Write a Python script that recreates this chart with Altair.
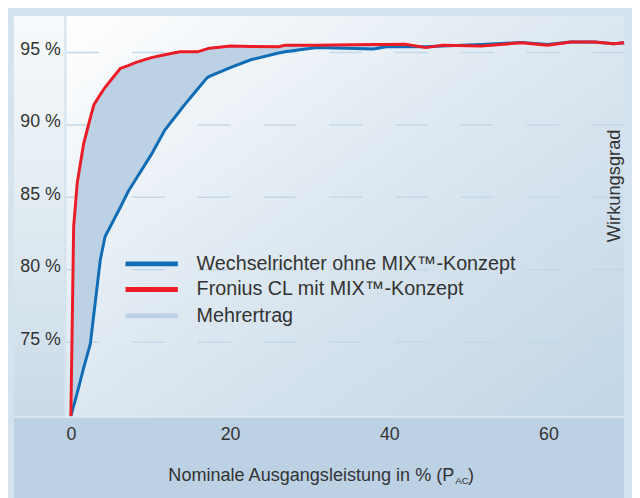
import altair as alt
import pandas as pd

# ---- data ----
x_pct = [0, 0.35, 0.8, 1.6, 2.45, 2.9, 3.7, 4.3, 6.2, 7.2, 8.1, 10.1, 11.8, 13.7,
         14.3, 15.9, 17.1, 17.4, 20.1, 22.6, 26.1, 26.9, 30.9, 38, 39.6, 42,
         44.6, 46.7, 51.6, 56.6, 59.9, 62.8, 65.8, 68.2, 69.5]
fronius_mix = [69.9, 83.0, 86.0, 88.7, 90.5, 91.4, 92.1, 92.6, 93.9, 94.1, 94.3, 94.65,
               94.85, 95.05, 95.05, 95.05, 95.25, 95.3, 95.45, 95.42, 95.4, 95.5, 95.5,
               95.55, 95.55, 95.57, 95.34, 95.5, 95.45, 95.68, 95.5, 95.73, 95.73, 95.6, 95.68]
ohne_mix = [69.9, 70.6, 71.5, 73.2, 74.9, 77.0, 80.7, 82.3, 84.3, 85.4, 86.2, 87.95,
            89.65, 90.98, 91.4, 92.46, 93.25, 93.35, 93.98, 94.5, 94.97, 95.05, 95.35,
            95.25, 95.4, 95.4, 95.4, 95.45, 95.55, 95.7, 95.55, 95.73, 95.73, 95.6, 95.68]
y_ticks = [75, 80, 85, 90, 95]
x_ticks = [0, 20, 40, 60]
legend_labels = ["Wechselrichter ohne MIX™-Konzept", "Fronius CL mit MIX™-Konzept", "Mehrertrag"]

BLUE = "#0f6cb5"
RED = "#ec1c27"
FILL = "#bcd1e4"
FONT = "Liberation Sans"
TXT = "#333333"

W, H = 565, 406

df = pd.DataFrame({"x": x_pct, "red": fronius_mix, "blue": ohne_mix})
grid_df = pd.DataFrame({"v": y_ticks})
one = pd.DataFrame({"a": [0]})

xscale = alt.Scale(domain=[-0.58, 69.5], nice=False, zero=False)
yscale = alt.Scale(domain=[69.84, 97.52], nice=False, zero=False)

xaxis = alt.Axis(values=x_ticks, format="d", domain=False, ticks=False, grid=False,
                 labelFontSize=18, labelFont=FONT, labelColor=TXT, labelPadding=9,
                 labelFlush=False, title=None, zindex=1)
yaxis = alt.Axis(values=y_ticks, labelExpr="datum.value + ' %'", domain=False, ticks=False,
                 grid=False, labelFontSize=18, labelFont=FONT, labelColor=TXT,
                 labelPadding=6, labelOffset=-3, title=None, zindex=1)

X = lambda f: alt.X(f, scale=xscale, axis=xaxis)
Y = lambda f: alt.Y(f, scale=yscale, axis=yaxis)

base1 = alt.Chart(one)

left_strip = base1.mark_rect(color={
    "gradient": "linear", "x1": 0, "y1": 0, "x2": 0, "y2": 1,
    "stops": [{"offset": 0, "color": "#f8fafc"}, {"offset": 1, "color": "#c9dbe7"}]
}).encode(x=alt.value(-53), x2=alt.value(0), y=alt.value(0), y2=alt.value(H))

plot_bg = base1.mark_rect(color={
    "gradient": "linear", "x1": 0, "y1": 0, "x2": 1, "y2": 1,
    "stops": [{"offset": 0, "color": "#ffffff"}, {"offset": 0.5, "color": "#dce7f0"},
              {"offset": 1, "color": "#c2d6e6"}]
}).encode(x=alt.value(0), x2=alt.value(W), y=alt.value(0), y2=alt.value(H))

band = base1.mark_rect(color="#bcd1e4").encode(
    x=alt.value(-53), x2=alt.value(W), y=alt.value(H), y2=alt.value(H + 90))

vline = base1.mark_rule(color="#d5e3ee", strokeWidth=2).encode(
    x=alt.value(-1), y=alt.value(0), y2=alt.value(H))
hline = base1.mark_rule(color="#dfeaf3", strokeWidth=1.5).encode(
    x=alt.value(-53), x2=alt.value(W), y=alt.value(H))

grid = alt.Chart(grid_df).mark_rule(color="#c3d8e9", strokeWidth=1.5, strokeDash=[33.3, 33.3]).encode(
    y=Y("v:Q"), x=alt.value(0), x2=alt.value(W))

area = alt.Chart(df).mark_area(color=FILL, opacity=1).encode(
    x=X("x:Q"), y=Y("red:Q"), y2="blue:Q")

blue_line = alt.Chart(df).mark_line(color=BLUE, strokeWidth=3).encode(
    x=X("x:Q"), y=Y("blue:Q"))

red_line = alt.Chart(df).mark_line(color=RED, strokeWidth=3).encode(
    x=X("x:Q"), y=Y("red:Q"))

# legend
leg_layers = []
leg_colors = [BLUE, RED, FILL]
leg_y = [251, 277, 303.5]
for lab, col, yy in zip(legend_labels, leg_colors, leg_y):
    leg_layers.append(base1.mark_rule(color=col, strokeWidth=5).encode(
        x=alt.value(60), x2=alt.value(113), y=alt.value(yy)))
    leg_layers.append(base1.mark_text(text=lab, font=FONT, fontSize=20, color=TXT,
                                      align="left", baseline="middle").encode(
        x=alt.value(132), y=alt.value(yy)))

wirk = base1.mark_text(text="Wirkungsgrad", font=FONT, fontSize=18.5, color=TXT, angle=270,
                       align="center", baseline="middle").encode(x=alt.value(555), y=alt.value(172))

title_main = base1.mark_text(text="Nominale Ausgangsleistung in % (P", font=FONT, fontSize=18.3,
                             color=TXT, align="right", baseline="middle").encode(
    x=alt.value(393), y=alt.value(466))
title_sub = base1.mark_text(text="AC", font=FONT, fontSize=10, color=TXT, align="left",
                            baseline="middle").encode(x=alt.value(394), y=alt.value(471))
title_end = base1.mark_text(text=")", font=FONT, fontSize=18.3, color=TXT, align="left",
                            baseline="middle").encode(x=alt.value(407), y=alt.value(466))

chart = alt.layer(
    left_strip, plot_bg, band, grid, vline, hline, area, blue_line, red_line,
    *leg_layers, wirk, title_main, title_sub, title_end
).properties(
    width=W, height=H,
    padding={"left": 59, "top": 5, "right": 8, "bottom": 79},
    autosize=alt.AutoSizeParams(type="none"),
    background="#d4e3ed",
).configure_view(stroke=None)

chart.save("out.html", embed_options={"renderer": "svg", "actions": False})
